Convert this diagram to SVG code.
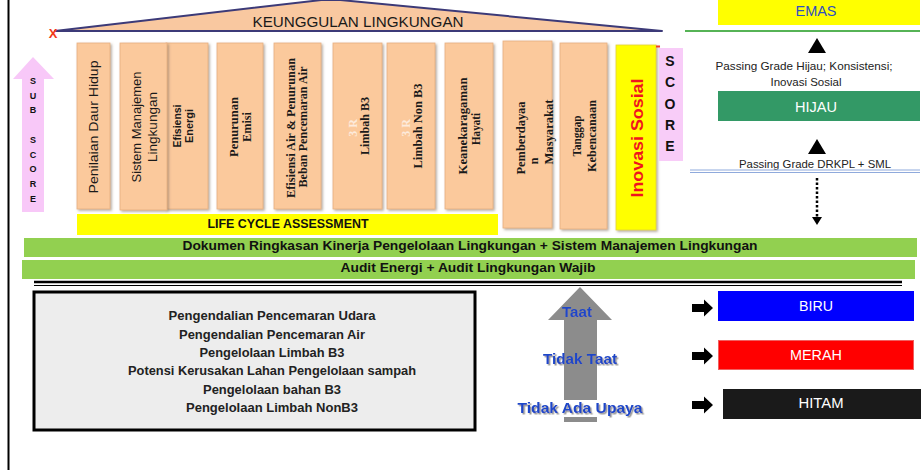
<svg xmlns="http://www.w3.org/2000/svg" width="921" height="470" viewBox="0 0 921 470">
  <defs>
    <filter id="shadow" x="-20%" y="-10%" width="140%" height="120%">
      <feDropShadow dx="1.5" dy="1.5" stdDeviation="1" flood-color="#7a6a5a" flood-opacity="0.55"/>
    </filter>
    <filter id="tshadow" x="-10%" y="-30%" width="120%" height="160%">
      <feDropShadow dx="1.5" dy="1.5" stdDeviation="0.6" flood-color="#8c8c8c" flood-opacity="0.9"/>
    </filter>
    <marker id="dotHead" viewBox="0 0 8 10" refX="0" refY="5" markerWidth="8" markerHeight="10" markerUnits="userSpaceOnUse" orient="auto">
      <path d="M0,0 L8,5 L0,10 z" fill="#000"/>
    </marker>
  </defs>
  <style>
    .pillar { fill: #FBC99C; stroke: #E7AE80; stroke-width: 0.8; filter: url(#shadow); }
    .sans { font-family: "Liberation Sans", Arial, sans-serif; }
    .serif { font-family: "Liberation Serif", "Times New Roman", serif; font-weight: bold; }
    .ptxt { fill: #1a1a1a; text-anchor: middle; }
    .light { fill: #FDEBDD; }
    .bold { font-weight: bold; }
    .mid { text-anchor: middle; }
    .blue { fill: #1F46C8; font-weight: bold; text-anchor: middle; font-size: 14px; filter: url(#tshadow); }
    .grey { fill: #222; font-weight: bold; text-anchor: middle; font-size: 13px; }
    .white { fill: #fff; text-anchor: middle; font-size: 14px; }
    .arrowblk { fill: #000; }
  </style>

  <rect width="921" height="470" fill="#fff"/>

  <!-- left frame edge -->
  <line x1="8.5" y1="0" x2="8.5" y2="470" stroke="#000" stroke-width="2"/>

  <!-- roof -->
  <g id="roof">
    <path d="M55,31 L330,-1 L662,31 Z" fill="#F9C8A0" stroke="#3C3A78" stroke-width="2" stroke-linejoin="round"/>
    <text x="358" y="27" class="sans mid" font-size="14.5" fill="#1a1a1a" textLength="211" lengthAdjust="spacingAndGlyphs">KEUNGGULAN LINGKUNGAN</text>
    <text x="53" y="38" class="sans mid bold" font-size="13" fill="#F23A1A">X</text>
  </g>

  <!-- sub score arrow -->
  <g id="subscore">
    <path d="M22,212 V79 H13 L33,57 L54,79 H44 V212 Z" fill="#F8C8F8"/>
    <g class="sans bold mid" font-size="9" fill="#111">
      <text x="33" y="84">S</text>
      <text x="33" y="99">U</text>
      <text x="33" y="113">B</text>
      <text x="33" y="143">S</text>
      <text x="33" y="158">C</text>
      <text x="33" y="172">O</text>
      <text x="33" y="187">R</text>
      <text x="33" y="202">E</text>
    </g>
  </g>

  <!-- pillars -->
  <g id="p-daur">
    <rect class="pillar" x="77" y="43" width="33" height="166"/>
    <text class="sans ptxt" font-size="13" transform="translate(98,127) rotate(-90)" textLength="133" lengthAdjust="spacingAndGlyphs">Penilaian Daur Hidup</text>
  </g>
  <g id="p-energi">
    <rect class="pillar" x="166" y="43" width="42" height="166"/>
    <text class="sans ptxt" font-size="10" font-weight="600" transform="translate(181,126) rotate(-90)" textLength="43" lengthAdjust="spacingAndGlyphs">Efisiensi</text>
    <text class="sans ptxt" font-size="10" font-weight="600" transform="translate(193,126) rotate(-90)" textLength="34" lengthAdjust="spacingAndGlyphs">Energi</text>
  </g>
  <g id="p-sml">
    <rect class="pillar" x="120" y="43" width="47" height="167"/>
    <text class="sans ptxt" font-size="13" transform="translate(141,127) rotate(-90)" textLength="111" lengthAdjust="spacingAndGlyphs">Sistem Manajemen</text>
    <text class="sans ptxt" font-size="13" transform="translate(157,127) rotate(-90)" textLength="70" lengthAdjust="spacingAndGlyphs">Lingkungan</text>
  </g>
  <g id="p-emisi">
    <rect class="pillar" x="217" y="43" width="46" height="166"/>
    <text class="serif ptxt" font-size="12" transform="translate(238,127) rotate(-90)" textLength="60" lengthAdjust="spacingAndGlyphs">Penurunan</text>
    <text class="serif ptxt" font-size="12" transform="translate(251,127) rotate(-90)" textLength="30" lengthAdjust="spacingAndGlyphs">Emisi</text>
  </g>
  <g id="p-air">
    <rect class="pillar" x="274" y="43" width="47" height="166"/>
    <text class="serif ptxt" font-size="12" transform="translate(295,128) rotate(-90)" textLength="140" lengthAdjust="spacingAndGlyphs">Efisiensi Air &amp; Penurunan</text>
    <text class="serif ptxt" font-size="12" transform="translate(307,127) rotate(-90)" textLength="121" lengthAdjust="spacingAndGlyphs">Beban Pencemaran Air</text>
  </g>
  <g id="p-3rb3">
    <rect class="pillar" x="333" y="43" width="49" height="166"/>
    <text class="serif ptxt light" font-size="12" style="fill:#FDEBDD" transform="translate(357,128) rotate(-90)">3 R</text>
    <text class="serif ptxt" font-size="12" transform="translate(369,126) rotate(-90)" textLength="58" lengthAdjust="spacingAndGlyphs">Limbah B3</text>
  </g>
  <g id="p-3rnonb3">
    <rect class="pillar" x="387" y="43" width="48" height="166"/>
    <text class="serif ptxt light" font-size="12" style="fill:#FDEBDD" transform="translate(410,128) rotate(-90)">3 R</text>
    <text class="serif ptxt" font-size="12" transform="translate(422,126) rotate(-90)" textLength="85" lengthAdjust="spacingAndGlyphs">Limbah Non B3</text>
  </g>
  <g id="p-hayati">
    <rect class="pillar" x="445" y="43" width="48" height="166"/>
    <text class="serif ptxt" font-size="12" transform="translate(467,126) rotate(-90)" textLength="97" lengthAdjust="spacingAndGlyphs">Keanekaragaman</text>
    <text class="serif ptxt" font-size="12" transform="translate(480,129) rotate(-90)" textLength="32" lengthAdjust="spacingAndGlyphs">Hayati</text>
  </g>
  <g id="p-masyarakat">
    <rect class="pillar" x="503" y="41" width="49" height="187"/>
    <text class="serif ptxt" font-size="12" transform="translate(525,138) rotate(-90)" textLength="73" lengthAdjust="spacingAndGlyphs">Pemberdayaa</text>
    <text class="serif ptxt" font-size="12" transform="translate(538,161) rotate(-90)">n</text>
    <text class="serif ptxt" font-size="12" transform="translate(553,132) rotate(-90)" textLength="65" lengthAdjust="spacingAndGlyphs">Masyarakat</text>
  </g>
  <g id="p-bencana">
    <rect class="pillar" x="560" y="43" width="47" height="186"/>
    <text class="serif ptxt" font-size="12" transform="translate(581,136) rotate(-90)" textLength="41" lengthAdjust="spacingAndGlyphs">Tanggap</text>
    <text class="serif ptxt" font-size="12" transform="translate(596,136) rotate(-90)" textLength="72" lengthAdjust="spacingAndGlyphs">Kebencanaan</text>
  </g>
  <g id="p-inovasi">
    <rect x="616" y="45" width="40" height="185" fill="#FFFF00" stroke="#E2D23A" stroke-width="0.8" filter="url(#shadow)"/>
    <text class="sans bold mid" font-size="17" fill="#F0141E" transform="translate(643,138) rotate(-90)" textLength="119" lengthAdjust="spacingAndGlyphs">Inovasi Sosial</text>
    <rect x="656" y="45.5" width="4" height="2" fill="#F2402A"/>
  </g>

  <!-- score label -->
  <g id="score">
    <rect x="659" y="48" width="24" height="113" fill="#F8CCF8"/>
    <g class="sans bold mid" font-size="14" fill="#111">
      <text x="670" y="66">S</text>
      <text x="670" y="87">C</text>
      <text x="670" y="109">O</text>
      <text x="670" y="130">R</text>
      <text x="670" y="151">E</text>
    </g>
  </g>

  <!-- foundations -->
  <g id="lca">
    <rect x="77" y="214" width="421" height="21" fill="#FFFF00"/>
    <text x="288" y="228" class="sans bold mid" font-size="12" fill="#111" textLength="161" lengthAdjust="spacingAndGlyphs">LIFE CYCLE ASSESSMENT</text>
  </g>
  <g id="drkpl">
    <rect x="24" y="238" width="893" height="19" fill="#92D050"/>
    <text x="470" y="250" class="sans bold mid" font-size="13" fill="#111" textLength="575" lengthAdjust="spacingAndGlyphs">Dokumen Ringkasan Kinerja Pengelolaan Lingkungan + Sistem Manajemen Lingkungan</text>
  </g>
  <g id="audit">
    <rect x="22" y="260" width="893" height="19" fill="#92D050"/>
    <text x="468" y="272" class="sans bold mid" font-size="13" fill="#111" textLength="255" lengthAdjust="spacingAndGlyphs">Audit Energi + Audit Lingkungan Wajib</text>
  </g>

  <!-- divider -->
  <line x1="34" y1="282" x2="902" y2="282" stroke="#000" stroke-width="2.5"/>
  <line x1="34" y1="285.5" x2="902" y2="285.5" stroke="#000" stroke-width="1"/>

  <!-- compliance aspects -->
  <g id="aspek">
    <rect x="34" y="292" width="441" height="138" fill="#EDEDED" stroke="#000" stroke-width="3"/>
    <text x="272" y="320" class="sans grey" textLength="207" lengthAdjust="spacingAndGlyphs">Pengendalian Pencemaran Udara</text>
    <text x="272" y="339" class="sans grey" textLength="186" lengthAdjust="spacingAndGlyphs">Pengendalian Pencemaran Air</text>
    <text x="272" y="357" class="sans grey" textLength="145" lengthAdjust="spacingAndGlyphs">Pengelolaan Limbah B3</text>
    <text x="272" y="375" class="sans grey" textLength="288" lengthAdjust="spacingAndGlyphs">Potensi Kerusakan Lahan Pengelolaan sampah</text>
    <text x="272" y="394" class="sans grey" textLength="138" lengthAdjust="spacingAndGlyphs">Pengelolaan bahan B3</text>
    <text x="272" y="412" class="sans grey" textLength="172" lengthAdjust="spacingAndGlyphs">Pengelolaan Limbah NonB3</text>
  </g>

  <!-- compliance scale arrow -->
  <g id="taat-scale">
    <path d="M564,422 V320 H548 L580,287 L612,320 H597 V422 Z" fill="#8C8C8C"/>
    <rect x="562" y="400" width="37" height="17" fill="#fff"/>
    <text x="577" y="317" class="sans blue" textLength="30" lengthAdjust="spacingAndGlyphs">Taat</text>
    <text x="580" y="364" class="sans blue" textLength="74" lengthAdjust="spacingAndGlyphs">Tidak Taat</text>
    <text x="580" y="413" class="sans blue" textLength="125" lengthAdjust="spacingAndGlyphs">Tidak Ada Upaya</text>
  </g>

  <!-- ratings -->
  <g id="emas">
    <rect x="718" y="0" width="202" height="25" fill="#FFFF00"/>
    <text x="816" y="16" class="sans mid" font-size="14" fill="#2F4FC0" textLength="41" lengthAdjust="spacingAndGlyphs">EMAS</text>
  </g>
  <g id="hijau">
    <rect x="718" y="91" width="202" height="30" fill="#339966"/>
    <text x="816" y="112" class="sans white" textLength="42" lengthAdjust="spacingAndGlyphs">HIJAU</text>
  </g>
  <g id="biru">
    <rect x="718" y="291" width="196" height="30" fill="#0000FF"/>
    <text x="816" y="311" class="sans white" textLength="34" lengthAdjust="spacingAndGlyphs">BIRU</text>
  </g>
  <g id="merah">
    <rect x="718.5" y="340.5" width="195" height="29" fill="#FF0000" stroke="#F06060" stroke-width="1"/>
    <text x="816" y="360" class="sans white" textLength="52" lengthAdjust="spacingAndGlyphs">MERAH</text>
  </g>
  <g id="hitam">
    <rect x="723" y="389" width="198" height="30" fill="#1A1A1A"/>
    <text x="821" y="408" class="sans white" textLength="45" lengthAdjust="spacingAndGlyphs">HITAM</text>
  </g>

  <!-- connectors -->
  <g id="connectors">
    <line x1="685" y1="31" x2="920" y2="31" stroke="#1E9A1E" stroke-width="1.5"/>
    <path d="M817,38 L826,53 L808,53 Z" fill="#000"/>
    <text x="804" y="70" class="sans mid" font-size="11" fill="#222" textLength="177" lengthAdjust="spacingAndGlyphs">Passing Grade Hijau; Konsistensi;</text>
    <text x="806" y="86" class="sans mid" font-size="11" fill="#222" textLength="71" lengthAdjust="spacingAndGlyphs">Inovasi Sosial</text>
    <path d="M817,139 L826,154 L808,154 Z" fill="#000"/>
    <text x="815" y="168" class="sans mid" font-size="11" fill="#222" textLength="152" lengthAdjust="spacingAndGlyphs">Passing Grade DRKPL +  SML</text>
    <line x1="690" y1="170" x2="920" y2="170" stroke="#8FAADC" stroke-width="1"/>
    <line x1="690" y1="172.5" x2="920" y2="172.5" stroke="#8FAADC" stroke-width="1"/>
    <line x1="817" y1="178" x2="817" y2="217" stroke="#000" stroke-width="2.5" stroke-dasharray="2.5 2" marker-end="url(#dotHead)"/>
    <path class="arrowblk" d="M692,304 H704 V299.5 L713,308 L704,316.5 V312 H692 Z"/>
    <path class="arrowblk" d="M692,352 H704 V347.5 L713,356 L704,364.5 V360 H692 Z"/>
    <path class="arrowblk" d="M692,401 H704 V396.5 L713,405 L704,413.5 V409 H692 Z"/>
  </g>
</svg>
